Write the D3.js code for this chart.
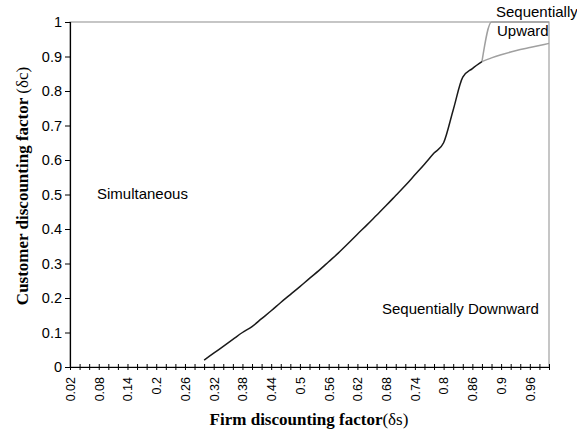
<!DOCTYPE html>
<html>
<head>
<meta charset="utf-8">
<script src="https://cdn.jsdelivr.net/npm/d3@7"></script>
<style>
  body { margin: 0; background: #fff; }
  svg { display: block; }
</style>
</head>
<body>
<script>
// categories on the x axis (Excel style category axis)
const categories = [
  "0.02","0.04","0.06","0.08","0.1","0.12","0.14","0.16","0.18","0.2",
  "0.22","0.24","0.26","0.28","0.3","0.32","0.34","0.36","0.38","0.4",
  "0.42","0.44","0.46","0.48","0.5","0.52","0.54","0.56","0.58","0.6",
  "0.62","0.64","0.66","0.68","0.7","0.72","0.74","0.76","0.78","0.8",
  "0.82","0.84","0.86","0.87","0.88","0.9","0.92","0.94","0.96","0.98","1"
];
const yTicks = [0, 0.1, 0.2, 0.3, 0.4, 0.5, 0.6, 0.7, 0.8, 0.9, 1];

// simultaneous / sequentially downward boundary (black), starts at 0.3
const boundaryStart = "0.3";
const boundaryValues = [
  0.02, 0.04, 0.06, 0.08, 0.10, 0.117, 0.14, 0.163, 0.187, 0.21,
  0.233, 0.257, 0.28, 0.305, 0.33, 0.357, 0.385, 0.412, 0.44, 0.468,
  0.497, 0.526, 0.557, 0.588, 0.62, 0.65, 0.745, 0.84, 0.865, 0.885
];

// sequentially upward region boundaries (gray), start at 0.87
const upwardStart = "0.87";
const upperValues = [0.885, 1, 1, 1, 1, 1, 1, 1];
const lowerValues = [0.885, 0.896, 0.905, 0.913, 0.92, 0.926, 0.932, 0.938];

const width = 577, height = 434;
const margin = { left: 70, right: 549, top: 22, bottom: 367 };

const svg = d3.select('body')
  .append('svg')
  .attr('width', width)
  .attr('height', height)
  .style('font-family', 'Liberation Sans, Arial, sans-serif');

const x = d3.scalePoint()
  .domain(categories)
  .range([margin.left, margin.right]);

const y = d3.scaleLinear()
  .domain([0, 1])
  .range([margin.bottom, margin.top]);

// plot area border
svg.append('rect')
  .attr('x', margin.left)
  .attr('y', margin.top)
  .attr('width', margin.right - margin.left)
  .attr('height', margin.bottom - margin.top)
  .attr('fill', 'none')
  .attr('stroke', '#a0a0a0')
  .attr('stroke-width', 1.2);

// y axis
const yAxis = svg.append('g')
  .attr('transform', `translate(${margin.left},0)`)
  .call(d3.axisLeft(y).tickValues(yTicks).tickSize(5).tickPadding(3)
    .tickFormat(d => d === 0 || d === 1 ? String(d) : d3.format('.1f')(d)));
yAxis.select('.domain').attr('stroke', '#000').attr('stroke-width', 1.2);
yAxis.selectAll('.tick line').attr('stroke', '#000');
yAxis.selectAll('.tick text').attr('font-size', 14.5).attr('fill', '#000')
  .attr('font-family', 'Liberation Sans, Arial, sans-serif');

// x axis: cross ticks on every category, label every third one
const xAxis = svg.append('g')
  .attr('transform', `translate(0,${margin.bottom})`)
  .call(d3.axisBottom(x).tickSize(0).tickFormat(''));
xAxis.select('.domain').attr('stroke', '#000').attr('stroke-width', 1.2);
xAxis.selectAll('.tick').append('line')
  .attr('y1', -3).attr('y2', 3)
  .attr('stroke', '#000');
xAxis.selectAll('.tick')
  .filter((d, i) => i % 3 === 0)
  .append('text')
  .attr('transform', 'translate(0,10) rotate(-90)')
  .attr('dy', '0.35em')
  .attr('text-anchor', 'end')
  .attr('font-size', 12.5)
  .attr('fill', '#000')
  .attr('font-family', 'Liberation Sans, Arial, sans-serif')
  .text(d => d);

// series
const seriesPoints = (start, values) => {
  const i0 = categories.indexOf(start);
  return values.map((v, i) => [categories[i0 + i], v]);
};

const line = d3.line()
  .x(d => x(d[0]))
  .y(d => y(d[1]))
  .curve(d3.curveMonotoneX);

svg.append('path')
  .datum(seriesPoints(upwardStart, upperValues))
  .attr('fill', 'none')
  .attr('stroke', '#a0a0a0')
  .attr('stroke-width', 1.5)
  .attr('d', line);

svg.append('path')
  .datum(seriesPoints(upwardStart, lowerValues))
  .attr('fill', 'none')
  .attr('stroke', '#a0a0a0')
  .attr('stroke-width', 1.5)
  .attr('d', line);

svg.append('path')
  .datum(seriesPoints(boundaryStart, boundaryValues))
  .attr('fill', 'none')
  .attr('stroke', '#1a1a1a')
  .attr('stroke-width', 1.5)
  .attr('d', line);

// region labels
const labels = svg.append('g')
  .attr('font-size', 15)
  .attr('fill', '#000');
labels.append('text').attr('x', 97).attr('y', 199).text('Simultaneous');
labels.append('text').attr('x', 382).attr('y', 314).text('Sequentially Downward');
labels.append('text').attr('x', 496).attr('y', 17).text('Sequentially');
labels.append('text').attr('x', 497).attr('y', 36).text('Upward');

// axis titles
const xTitle = svg.append('text')
  .attr('x', 309)
  .attr('y', 425)
  .attr('text-anchor', 'middle')
  .attr('font-family', 'Liberation Serif, Times New Roman, serif')
  .attr('font-size', 17)
  .attr('font-weight', 'bold');
xTitle.append('tspan').text('Firm discounting factor');
xTitle.append('tspan').attr('font-weight', 'normal').text('(δs)');

const yTitle = svg.append('text')
  .attr('transform', 'translate(28,186) rotate(-90)')
  .attr('text-anchor', 'middle')
  .attr('font-family', 'Liberation Serif, Times New Roman, serif')
  .attr('font-size', 17)
  .attr('font-weight', 'bold');
yTitle.append('tspan').text('Customer discounting factor ');
yTitle.append('tspan').attr('font-weight', 'normal').text('(δc)');
</script>
</body>
</html>
